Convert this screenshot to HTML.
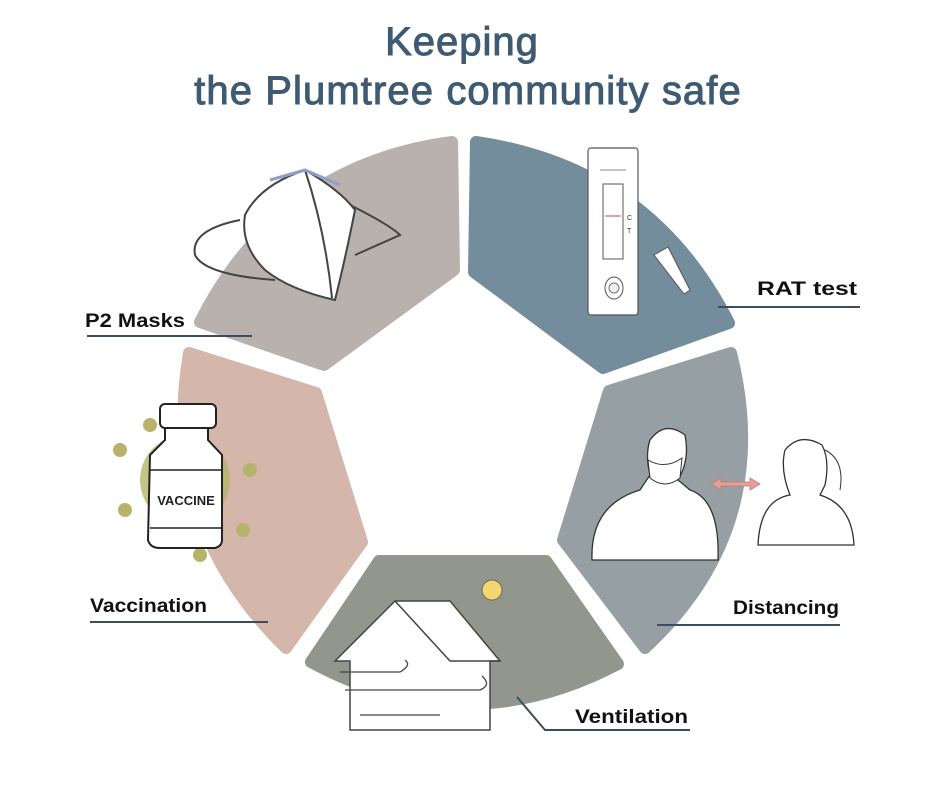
<!DOCTYPE html>
<html><head><meta charset="utf-8"><style>
body{margin:0;background:#fff;}
svg{display:block}
</style></head><body>
<svg width="940" height="788" viewBox="0 0 940 788" xmlns="http://www.w3.org/2000/svg">
<rect width="940" height="788" fill="#fff"/>
<text x="462" y="55" text-anchor="middle" font-family="Liberation Sans, sans-serif" font-size="40" fill="#3f5b73" stroke="#3f5b73" stroke-width="1" letter-spacing="1">Keeping</text>
<text x="468" y="104" text-anchor="middle" font-family="Liberation Sans, sans-serif" font-size="40" fill="#3f5b73" stroke="#3f5b73" stroke-width="1" letter-spacing="1.1">the Plumtree community safe</text>
<g stroke-linejoin="round" stroke-width="12">
<path d="M200,322 Q279,165 452,142 L454,270 L324,365 Z" fill="#b9b1ad" stroke="#b9b1ad"/>
<path d="M476,142 Q650,167 729,323 L603,368 L474,272 Z" fill="#748d9c" stroke="#748d9c"/>
<path d="M731,353 Q775,527 645,648 L563,540 L609,391 Z" fill="#959fa4" stroke="#959fa4"/>
<path d="M618,664 Q464,745 311,662 L379,561 L546,561 Z" fill="#93968c" stroke="#93968c"/>
<path d="M286,648 Q160,525 189,353 L316,393 L362,542 Z" fill="#d4b6ab" stroke="#d4b6ab"/>
</g>
<!-- mask -->
<g stroke="#444" stroke-width="2" fill="none">
<path d="M240,220 Q190,230 195,255 Q205,275 275,280" />
<path d="M350,205 Q390,225 400,235 L355,255"/>
<path d="M245,215 Q260,185 305,170 Q340,190 355,210 Q345,260 335,300 Q290,290 265,270 Q240,245 245,215 Z" fill="#fff"/>
<path d="M305,170 Q325,230 332,298"/>
<path d="M270,180 L305,170 L340,185" stroke="#8fa0c8" stroke-width="3"/>
</g>
<!-- test -->
<rect x="588" y="148" width="50" height="167" rx="3" fill="#fff" stroke="#555" stroke-width="1.2"/>
<line x1="600" y1="170" x2="626" y2="170" stroke="#888"/>
<rect x="603" y="184" width="20" height="75" fill="#fff" stroke="#555"/>
<line x1="605" y1="216" x2="621" y2="216" stroke="#e07a98" stroke-width="1.5"/>
<text x="627" y="220" font-family="Liberation Sans, sans-serif" font-size="7" fill="#333">C</text>
<text x="627" y="233" font-family="Liberation Sans, sans-serif" font-size="7" fill="#333">T</text>
<ellipse cx="614" cy="288" rx="9" ry="11" fill="#fff" stroke="#555"/>
<circle cx="614" cy="288" r="5" fill="#eee" stroke="#777"/>
<path d="M654,255 L668,247 L690,290 L684,294 Z" fill="#fff" stroke="#555"/>
<!-- vaccine -->
<g fill="#b5b46a">
<circle cx="185" cy="480" r="45" opacity="0.8"/>
<circle cx="120" cy="450" r="7"/><circle cx="125" cy="510" r="7"/><circle cx="250" cy="470" r="7"/><circle cx="243" cy="530" r="7"/><circle cx="200" cy="555" r="7"/><circle cx="150" cy="425" r="7"/>
</g>
<rect x="160" y="404" width="56" height="24" rx="5" fill="#fff" stroke="#222" stroke-width="2"/>
<path d="M165,428 L165,440 L150,455 L148,540 Q150,548 160,548 L215,548 Q222,546 222,540 L222,455 L208,440 L208,428 Z" fill="#fff" stroke="#222" stroke-width="2"/>
<line x1="150" y1="470" x2="222" y2="470" stroke="#222" stroke-width="1.5"/>
<line x1="150" y1="528" x2="222" y2="528" stroke="#222" stroke-width="1.5"/>
<text x="186" y="505" text-anchor="middle" font-family="Liberation Sans, sans-serif" font-weight="bold" font-size="13" fill="#222">VACCINE</text>
<!-- house -->
<circle cx="492" cy="590" r="10" fill="#f0d770" stroke="#666"/>
<path d="M335,661 L395,601 L450,601 L500,661 L490,661 L490,730 L350,730 L350,661 Z" fill="#fff" stroke="#444" stroke-width="1.5"/>
<path d="M395,601 L450,661 L500,661" fill="none" stroke="#444" stroke-width="1.5"/>
<path d="M340,672 L400,672 Q412,665 405,660 M345,690 L480,690 Q492,685 482,676 M360,715 L440,715" fill="none" stroke="#444" stroke-width="1.3"/>
<!-- people -->
<path d="M592,560 Q590,505 640,490 L650,475 Q645,455 650,440 Q665,420 685,435 Q690,460 678,480 L690,490 Q720,500 718,560 Z" fill="#fff" stroke="#333" stroke-width="1.3"/>
<path d="M648,460 Q665,470 682,458 L680,478 Q665,490 650,478 Z" fill="#fff" stroke="#333"/>
<path d="M758,545 Q760,500 790,495 Q780,470 785,450 Q800,432 822,445 Q830,460 825,485 L820,495 Q852,505 854,545 Z" fill="#fff" stroke="#333" stroke-width="1.3"/>
<path d="M825,450 Q845,460 840,490" fill="none" stroke="#333"/>
<path d="M711,484 L721,478 L721,482 L750,482 L750,478 L760,484 L750,490 L750,486 L721,486 L721,490 Z" fill="#e2a098" stroke="#c07a72" stroke-width="0.8"/>
<!-- labels -->
<g font-family="Liberation Sans, sans-serif" font-weight="bold" font-size="19" fill="#111">
<text x="85" y="327" textLength="100" lengthAdjust="spacingAndGlyphs">P2 Masks</text>
<text x="757" y="295" textLength="100" lengthAdjust="spacingAndGlyphs">RAT test</text>
<text x="733" y="614" textLength="106" lengthAdjust="spacingAndGlyphs">Distancing</text>
<text x="90" y="612" textLength="117" lengthAdjust="spacingAndGlyphs">Vaccination</text>
<text x="575" y="723" textLength="113" lengthAdjust="spacingAndGlyphs">Ventilation</text>
</g>
<g stroke="#3b4d63" stroke-width="2" fill="none">
<line x1="87" y1="336" x2="252" y2="336"/>
<line x1="718" y1="307" x2="860" y2="307"/>
<line x1="657" y1="625" x2="840" y2="625"/>
<line x1="90" y1="622" x2="268" y2="622"/>
<polyline points="517,697 545,730 690,730"/>
</g>
</svg>
</body></html>
